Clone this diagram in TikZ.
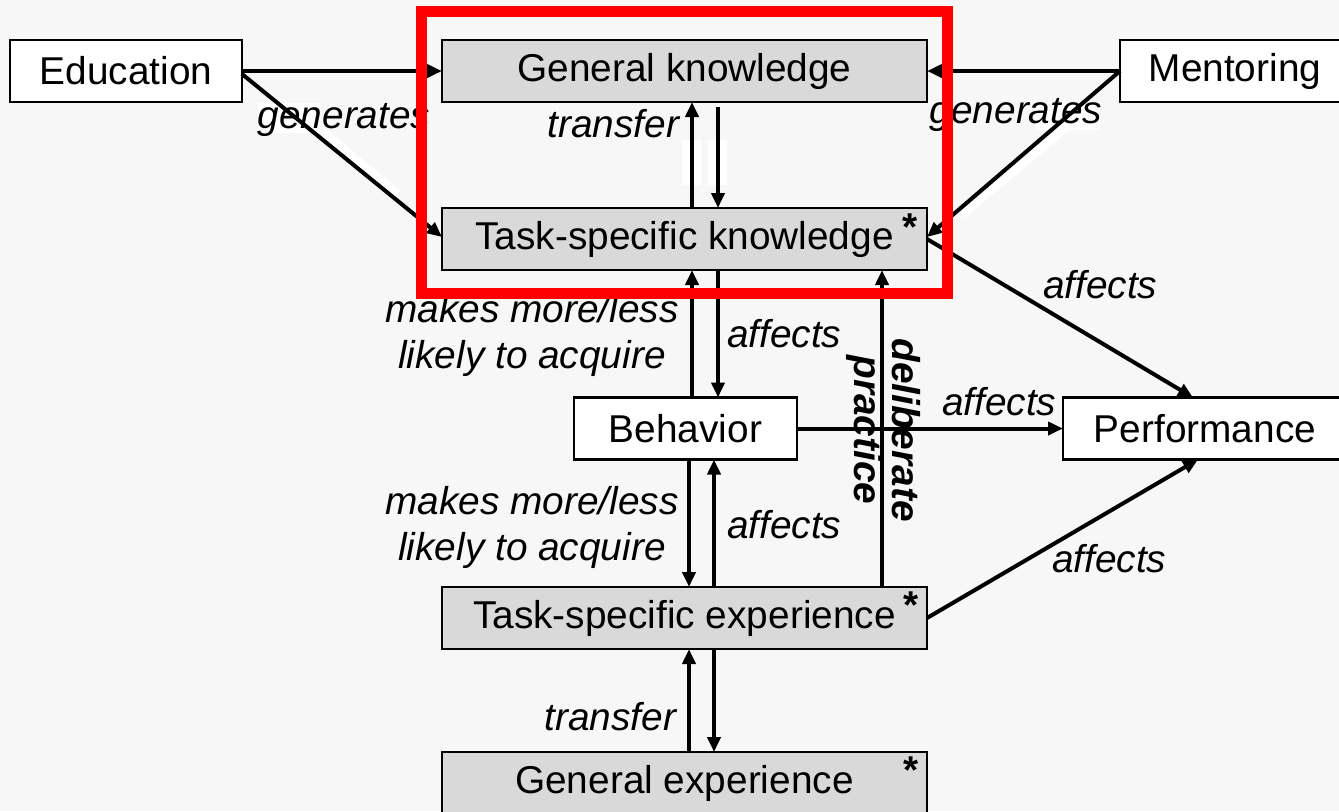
\documentclass[tikz,border=0pt]{standalone}
\usepackage{fontspec}
\setmainfont{Liberation Sans}
\usetikzlibrary{arrows.meta}
\definecolor{bgc}{HTML}{F7F7F7}
\definecolor{boxgray}{HTML}{D9D9D9}
\begin{document}
\begin{tikzpicture}[x=0.5pt,y=-0.5pt,
  every node/.style={inner sep=0pt, outer sep=0pt},
  txt/.style={font=\fontsize{19.4pt}{23pt}\selectfont},
  lab/.style={font=\itshape\fontsize{19.4pt}{23pt}\selectfont},
  wbox/.style={txt, draw=black, fill=white, line width=1.25pt, minimum height=31pt},
  gbox/.style={wbox, fill=boxgray, minimum width=242.5pt},
  star/.style={font=\bfseries\fontsize{19.4pt}{23pt}\selectfont},
  arr/.style={-{Triangle[length=7.5pt,width=6.5pt]}, line width=2pt},
  halo/.style={white, line width=4pt}]
\clip (0,0) rectangle (1339,811);
\fill[bgc] (0,0) rectangle (1339,811);

% column coordinates
\coordinate (c692) at (692,0);
\coordinate (c718) at (718,0);
\coordinate (c689) at (689,0);
\coordinate (c714) at (714,0);
\coordinate (c882) at (882,0);
\coordinate (c1193) at (1193,0);
\coordinate (c1198) at (1198,0);

% nodes
\node[wbox, minimum width=116pt] (edu) at (126,71) {Education};
\node[gbox] (gk) at (684.5,71) {General knowledge};
\node[wbox, minimum width=115pt] (ment) at (1235,71) {Mentoring};
\node[gbox] (tsk) at (684.5,239) {Task-specific knowledge};
\node[wbox, minimum width=111.5pt] (beh) at (685.5,428.5) {Behavior};
\node[wbox, minimum width=142pt] (perf) at (1205,428.5) {Performance};
\node[gbox] (tse) at (684.5,618) {Task-specific experience};
\node[gbox] (ge) at (684.5,783) {General experience};
\node[star] (s1) at (910,227) {*};
\node[star] (s2) at (911,605) {*};
\node[star] (s3) at (911,770) {*};

% white artefacts
\fill[white] (258,103) rectangle (320,133);
\fill[white] (1035,102) rectangle (1100,130);
\fill[white] (682,140) rectangle (701,185);
\fill[white] (708,140) rectangle (727,185);
\draw[halo] (323,131) -- (398,194);
\draw[halo] (1066.5,127.2) -- (962.5,214.8);

% connectors
\draw[arr] (edu.east) -- (gk.west);
\draw[arr] ([yshift=-1.5pt]edu.east) -- ([yshift=1pt]tsk.west);
\draw[arr] (ment.west) -- (gk.east);
\draw[arr] (ment.west) -- ([yshift=1pt]tsk.east);
\draw[arr] (tsk.north -| c692) -- (gk.south -| c692);
\draw[arr, shorten <=2.5pt] (gk.south -| c718) -- (tsk.north -| c718);
\draw[arr] (beh.north -| c692) -- (tsk.south -| c692);
\draw[arr] (tsk.south -| c718) -- (beh.north -| c718);
\draw[arr] (beh.south -| c689) -- (tse.north -| c689);
\draw[arr] (tse.north -| c714) -- (beh.south -| c714);
\draw[arr] (ge.north -| c689) -- (tse.south -| c689);
\draw[arr] (tse.south -| c714) -- (ge.north -| c714);
\draw[arr] (tse.north -| c882) -- (tsk.south -| c882);
\draw[arr] (beh.east) -- (perf.west);
\draw[arr] (tsk.east) -- (perf.north -| c1193);
\draw[arr] (tse.east) -- (perf.south -| c1198);

% labels
\node[lab, anchor=base] (gen1) at (344,128) {generates};
\node[lab, anchor=base] (gen2) at (1016,123) {generates};
\node[lab, anchor=base east] (tr1) at (679,137) {transfer};
\node[lab, align=center] (mm1) at (532,335) {makes more/less\\likely to acquire};
\node[lab, align=center] (mm2) at (532,527) {makes more/less\\likely to acquire};
\node[lab, anchor=base west] (af1) at (727,347) {affects};
\node[lab, anchor=base west] (af2) at (727,538) {affects};
\node[lab, anchor=base west] (af3) at (1043,298) {affects};
\node[lab, anchor=base west] (af4) at (942,415) {affects};
\node[lab, anchor=base west] (af5) at (1052,572) {affects};
\node[lab, anchor=base east] (tr2) at (676,730) {transfer};
\node[font=\bfseries\itshape\fontsize{19.4pt}{19pt}\selectfont, align=center, rotate=-90] (dp) at (884,430) {deliberate\\practice};

% highlight
\draw[red, line width=5.5pt] (421,11.5) rectangle (947.5,293.5);
\end{tikzpicture}
\end{document}
